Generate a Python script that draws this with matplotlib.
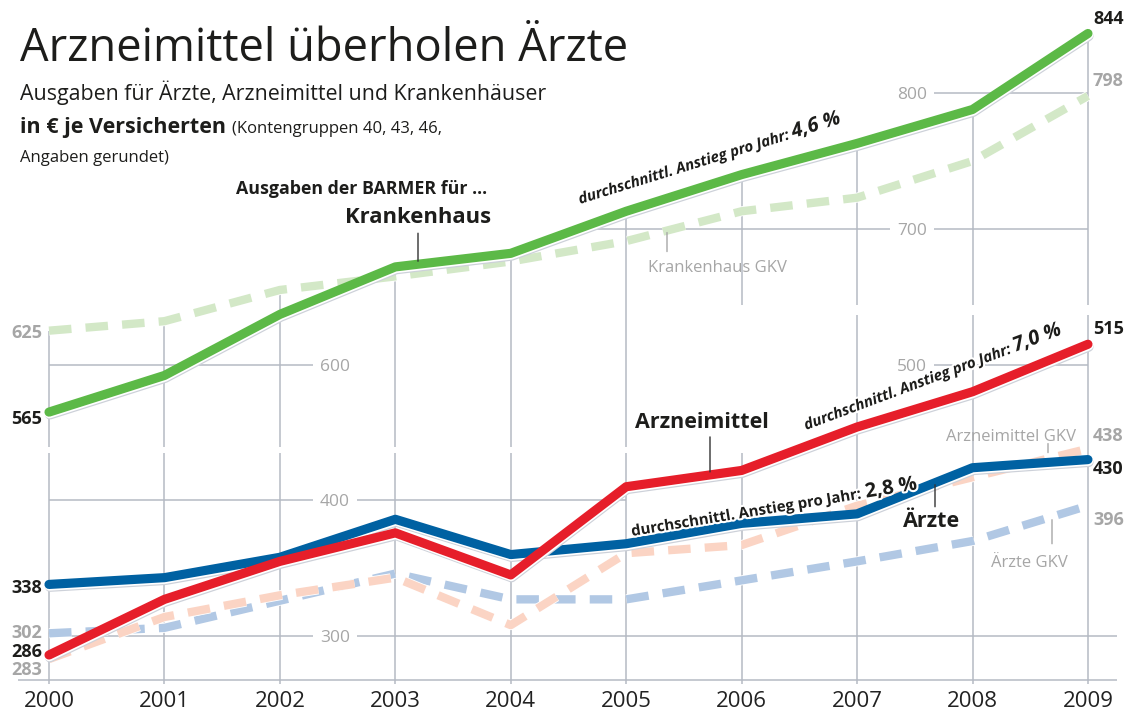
import numpy as np
import matplotlib
matplotlib.use("Agg")
import matplotlib.pyplot as plt
from matplotlib import patheffects as pe
from matplotlib import font_manager as fm
from matplotlib.font_manager import FontProperties
from matplotlib.transforms import offset_copy

# ---------------- data ----------------
years = [2000, 2001, 2002, 2003, 2004, 2005, 2006, 2007, 2008, 2009]
kh_barmer = [565, 592, 637, 672, 682, 713, 740, 763, 788, 844]
kh_gkv = [625, 632, 655, 665, 676, 691, 713, 723, 750, 798]
arz_barmer = [286, 327, 355, 376, 345, 410, 422, 454, 480, 515]
arz_gkv = [283, 314, 330, 343, 308, 361, 367, 396, 417, 438]
aerzte_barmer = [338, 343, 358, 386, 360, 368, 383, 390, 424, 430]
aerzte_gkv = [302, 306, 326, 346, 327, 327, 341, 355, 370, 396]

upper_ticks = [800, 700, 600]
lower_ticks = [500, 400, 300]
growth_kh = "4,6 %"
growth_arz = "7,0 %"
growth_aerzte = "2,8 %"
year_labels = [str(y) for y in years]

title = "Arzneimittel überholen Ärzte"
subtitle = "Ausgaben für Ärzte, Arzneimittel und Krankenhäuser"

# ---------------- style ----------------
W, H, DPI = 1134, 718, 100
FONT = "Open Sans"


def have(fam):
    try:
        fm.findfont(FontProperties(family=fam), fallback_to_default=False)
        return True
    except Exception:
        return False


COND = "Liberation Sans Narrow" if have("Liberation Sans Narrow") else FONT
plt.rcParams["font.family"] = [FONT, "DejaVu Sans"]

C_GREEN, C_RED, C_BLUE = "#5cb947", "#e61e2a", "#0061a2"
C_GREEN_L, C_RED_L, C_BLUE_L = "#d3e8c7", "#fbd4c4", "#b1c8e4"
C_GRID = "#b5bac3"
C_GRAYTXT = "#a6a6a6"
C_BLACK = "#1d1d1b"

OFFSET = 100  # upper panel (Krankenhaus) scale is shifted by 100

fig = plt.figure(figsize=(W / DPI, H / DPI), dpi=DPI)
ax = fig.add_axes([0, 0, 1, 1])
XSTEP = 115.44
PXU = 1.357
ax.set_xlim(2000 - 49 / XSTEP, 2000 + (W - 49) / XSTEP)
ax.set_ylim(300 - (H - 636) / PXU, 300 + 636 / PXU)
ax.axis("off")
ax2 = ax.twinx()
lo, hi = ax.get_ylim()
ax2.set_ylim(lo + OFFSET, hi + OFFSET)
ax2.axis("off")


def yr(px):
    return 2000 + (px - 49) / XSTEP


def lowv(py):
    return 300 + (636 - py) / PXU


# ---------------- grid ----------------
glw = 1.1
gap = 22 / XSTEP
lab_left = yr(335)
lab_right = yr(912)
ax2.hlines(800, lab_right + gap, 2009, color=C_GRID, lw=glw, zorder=1)
ax2.hlines(700, yr(597), lab_right - gap, color=C_GRID, lw=glw, zorder=1)
ax2.hlines(700, lab_right + gap, 2009, color=C_GRID, lw=glw, zorder=1)
ax2.hlines(600, 2000, lab_left - gap, color=C_GRID, lw=glw, zorder=1)
ax.hlines(500, lab_right + gap, 2009, color=C_GRID, lw=glw, zorder=1)
ax.hlines(400, 2000, lab_left - gap, color=C_GRID, lw=glw, zorder=1)
ax.hlines(400, lab_left + gap, 2005, color=C_GRID, lw=glw, zorder=1)
ax.hlines(300, 2000, lab_left - gap, color=C_GRID, lw=glw, zorder=1)
ax.hlines(300, lab_left + gap, yr(1117), color=C_GRID, lw=glw, zorder=1)
ax.hlines(lowv(680), yr(18), yr(1117), color=C_GRID, lw=glw, zorder=1)

for ticks, axis, xpos in ((upper_ticks, ax2, [lab_right, lab_right, lab_left]),
                          (lower_ticks, ax, [lab_right, lab_left, lab_left])):
    for t, xp in zip(ticks, xpos):
        axis.text(xp, t, str(t), ha="center", va="center_baseline", fontsize=12.5,
                  color=C_GRAYTXT, zorder=2)

for i, y in enumerate(years):
    top_u = max(kh_barmer[i], kh_gkv[i])
    bot_u = lowv(447) + OFFSET if y <= 2005 else lowv(305) + OFFSET
    ax2.vlines(y, bot_u, top_u, color=C_GRID, lw=glw, zorder=1)
    top_l = lowv(453) if y <= 2006 else lowv(315)
    ax.vlines(y, lowv(684), top_l, color=C_GRID, lw=glw, zorder=1)
    ax.text(y, lowv(707), year_labels[i], ha="center", va="baseline",
            fontsize=16, color="#222222")

# ---------------- lines ----------------
LW = 6.6
DLW = 6.0


def solid_fx(lw):
    return [pe.Stroke(linewidth=lw + 0.3, foreground="#cdd1d9", offset=(0.6, -1.9)),
            pe.Stroke(linewidth=lw + 0.6, foreground="white", offset=(0.3, -0.9)),
            pe.Normal()]


dash_fx = [pe.Stroke(linewidth=DLW + 1.2, foreground="white"), pe.Normal()]

ax2.plot(years, kh_gkv, color=C_GREEN_L, lw=DLW, dashes=(2.7, 1.7),
         dash_capstyle="butt", path_effects=dash_fx, zorder=3)
ax2.plot(years, kh_barmer, color=C_GREEN, lw=LW, solid_capstyle="round",
         solid_joinstyle="round", path_effects=solid_fx(LW), zorder=4)

ax.plot(years, aerzte_gkv, color=C_BLUE_L, lw=DLW, dashes=(2.7, 1.7),
        dash_capstyle="butt", path_effects=dash_fx, zorder=3)
ax.plot(years, arz_gkv, color=C_RED_L, lw=DLW, dashes=(2.7, 1.7),
        dash_capstyle="butt", path_effects=dash_fx, zorder=3.1)
ax.plot(years, aerzte_barmer, color=C_BLUE, lw=LW, solid_capstyle="round",
        solid_joinstyle="round", path_effects=solid_fx(LW), zorder=4)
ax.plot(years, arz_barmer, color=C_RED, lw=LW, solid_capstyle="round",
        solid_joinstyle="round", path_effects=solid_fx(LW), zorder=4.1)

# ---------------- value labels ----------------
end_labels = [
    (ax2, kh_gkv, 0, C_GRAYTXT, 0), (ax2, kh_barmer, 0, C_BLACK, 5),
    (ax, aerzte_barmer, 0, C_BLACK, 1.5), (ax, aerzte_gkv, 0, C_GRAYTXT, -2),
    (ax, arz_barmer, 0, C_BLACK, -5), (ax, arz_gkv, 0, C_GRAYTXT, 8.5),
    (ax2, kh_barmer, -1, C_BLACK, -16.5), (ax2, kh_gkv, -1, C_GRAYTXT, -17),
    (ax, arz_barmer, -1, C_BLACK, -17), (ax, arz_gkv, -1, C_GRAYTXT, -15),
    (ax, aerzte_barmer, -1, C_BLACK, 7.5), (ax, aerzte_gkv, -1, C_GRAYTXT, 12.5),
]
for axis, ser, idx, col, nud in end_labels:
    left = idx == 0
    axis.annotate(str(ser[idx]), xy=(years[idx], ser[idx]),
                  xytext=(-7 if left else 5, -nud), textcoords="offset pixels",
                  ha="right" if left else "left", va="center_baseline",
                  fontsize=13, fontweight="bold", color=col, zorder=6)


# ---------------- callouts ----------------
def callout(axis, xs, series, xpx, text, above, l0, l1, tdy, tdx, color, lcol,
            size, weight):
    xv = yr(xpx)
    yv = float(np.interp(xv, xs, series))
    s = 1 if above else -1
    axis.annotate("", xy=(xv, yv), xycoords="data",
                  xytext=(0, s * l1), textcoords="offset pixels",
                  arrowprops=dict(arrowstyle="-", color=lcol, lw=1.0,
                                  shrinkA=0, shrinkB=l0 / 1.389),
                  zorder=5)
    axis.annotate(text, xy=(xv, yv), xytext=(tdx, s * tdy),
                  textcoords="offset pixels", ha="center", va="baseline",
                  fontsize=size, fontweight=weight, color=color, zorder=6)


callout(ax2, years, kh_barmer, 418, "Krankenhaus", True, 3, 31, 41, 0,
        C_BLACK, "#333333", 15.8, "bold")
callout(ax2, years, kh_gkv, 667, "Krankenhaus GKV", False, 2, 21, 41, 50,
        C_GRAYTXT, C_GRAYTXT, 12, "normal")
callout(ax, years, arz_barmer, 710, "Arzneimittel", True, 3, 38, 47, -8,
        C_BLACK, "#333333", 15.5, "bold")
callout(ax, years, arz_gkv, 1048, "Arzneimittel GKV", True, 6, 15, 18, -37,
        C_GRAYTXT, C_GRAYTXT, 12, "normal")
callout(ax, years, aerzte_barmer, 935, "Ärzte", False, 2, 24, 44, -3,
        C_BLACK, "#333333", 15.5, "bold")
callout(ax, years, aerzte_gkv, 1052, "Ärzte GKV", False, 3, 27, 50, -23,
        C_GRAYTXT, C_GRAYTXT, 12, "normal")

# ---------------- growth annotations (rotated) ----------------
renderer = fig.canvas.get_renderer()
halo = [pe.withStroke(linewidth=3, foreground="white")]


def slope_text(axis, x, y, angle, parts):
    ca, sa = np.cos(np.radians(angle)), np.sin(np.radians(angle))
    dist = 0.0
    for s, kw in parts:
        fp = FontProperties(family=kw.get("family", COND), size=kw["size"],
                            weight=kw.get("weight", "bold"),
                            style=kw.get("style", "normal"))
        tr = offset_copy(axis.transData, fig=fig, x=dist * ca, y=dist * sa,
                         units="dots")
        axis.text(x, y, s, transform=tr, rotation=angle, rotation_mode="anchor",
                  ha="left", va="baseline", fontproperties=fp, color=C_BLACK,
                  path_effects=halo, zorder=7)
        w, h, d = renderer.get_text_width_height_descent(s + " ", fp, ismath=False)
        dist += w


slope_text(ax2, yr(580), lowv(204) + OFFSET, 17.2,
           [("durchschnittl. Anstieg pro Jahr:", dict(size=10.8, style="italic")),
            (growth_kh, dict(size=14.5, style="italic"))])
slope_text(ax, yr(806), lowv(430), 20.5,
           [("durchschnittl. Anstieg pro Jahr:", dict(size=10.8, style="italic")),
            (growth_arz, dict(size=14.5, style="italic"))])
slope_text(ax, yr(632), lowv(536), 9.3,
           [("durchschnittl. Anstieg pro Jahr:", dict(size=10.8)),
            (growth_aerzte, dict(size=14.5))])


# ---------------- header texts ----------------
def fpx(x, y):
    return x / W, 1 - y / H


fig.text(*fpx(20, 61), title, fontsize=32.6, color=C_BLACK, ha="left", va="baseline")
fig.text(*fpx(20, 100), subtitle, fontsize=15.4, color=C_BLACK, ha="left", va="baseline")
bold_fp = FontProperties(family=FONT, size=15.5, weight="bold")
fig.text(*fpx(20, 133), "in € je Versicherten", fontproperties=bold_fp,
         color=C_BLACK, ha="left", va="baseline")
w1 = renderer.get_text_width_height_descent("in € je Versicherten ", bold_fp, False)[0]
fig.text(*fpx(20 + w1, 133), "(Kontengruppen 40, 43, 46,", fontsize=12,
         color=C_BLACK, ha="left", va="baseline")
fig.text(*fpx(20, 162), "Angaben gerundet)", fontsize=12, color=C_BLACK,
         ha="left", va="baseline")
fig.text(*fpx(487, 194), "Ausgaben der BARMER für ...", fontsize=12.8, fontweight="bold",
         color=C_BLACK, ha="right", va="baseline")

fig.savefig("out.png", dpi=DPI)
